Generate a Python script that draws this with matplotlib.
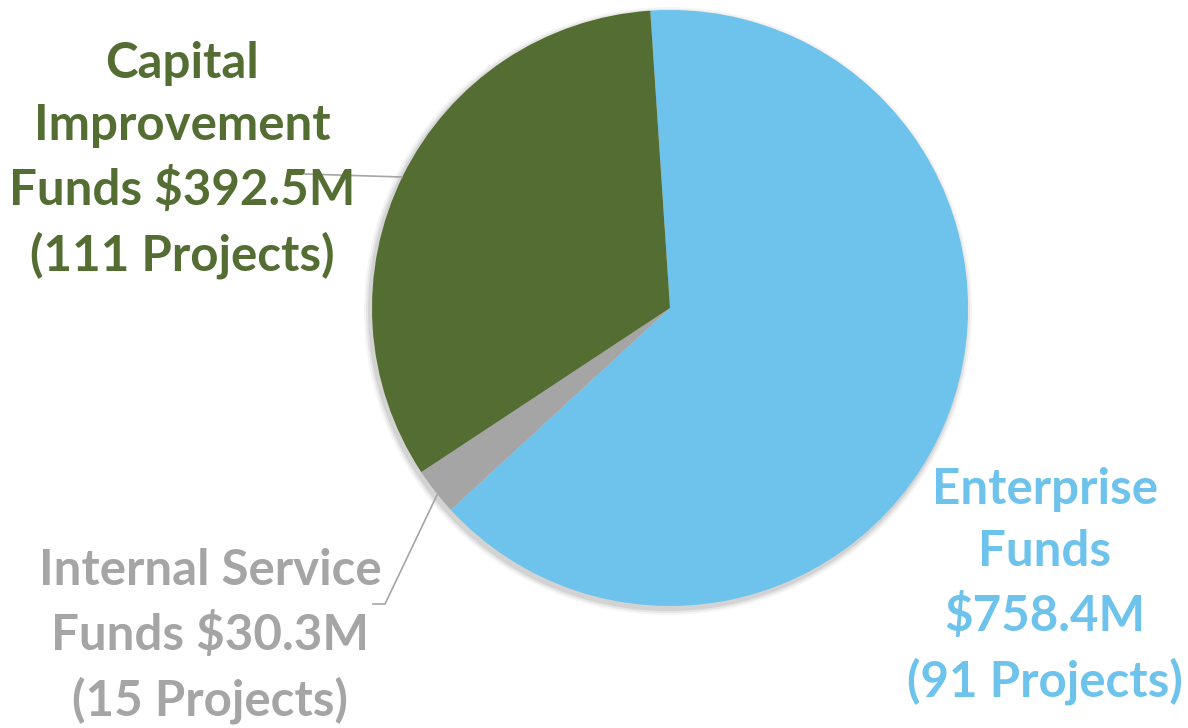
import matplotlib.pyplot as plt
from matplotlib.patches import Circle

plt.rcParams["font.family"] = ["Lato", "DejaVu Sans"]

# pie data (clockwise from top)
funds = ["Enterprise Funds", "Internal Service Funds", "Capital Improvement Funds"]
amounts = [758.4, 30.3, 392.5]
projects = [91, 15, 111]
colors = ["#6DC3EB", "#A5A5A5", "#546D32"]

W, H = 1188, 728
fig = plt.figure(figsize=(W / 100, H / 100), dpi=100)
ax = fig.add_axes([0, 0, 1, 1])

cx, cy, r = 670, H - 308, 298

# soft drop shadow behind the pie
for k, a in [(6, 0.04), (4, 0.06), (2, 0.08)]:
    ax.add_patch(Circle((cx - 2, cy - 3), r + k, color="black", alpha=a, lw=0, zorder=0))

ax.pie(
    amounts,
    colors=colors,
    startangle=93.8,
    counterclock=False,
    center=(cx, cy),
    radius=r,
    frame=True,
    wedgeprops={"linewidth": 0, "zorder": 1},
)
ax.set_xlim(0, W)
ax.set_ylim(0, H)
ax.set_aspect("equal")
ax.axis("off")

fs = 35.5
txt = dict(ha="center", va="center", fontsize=fs, fontweight="bold", linespacing=1.47)

ax.text(182, H - 160, "Capital\nImprovement\nFunds $%.1fM\n(%d Projects)" % (amounts[2], projects[2]),
        color=colors[2], **txt)
ax.text(210, H - 636, "Internal Service\nFunds $%.1fM\n(%d Projects)" % (amounts[1], projects[1]),
        color=colors[1], **txt)
ax.text(1045, H - 586, "Enterprise\nFunds\n$%.1fM\n(%d Projects)" % (amounts[0], projects[0]),
        color=colors[0], **txt)

# leader lines
ax.plot([305, 402], [H - 174, H - 177], color="#A5A5A5", lw=1.2)
ax.plot([373, 385, 437], [H - 604, H - 604, H - 495], color="#A5A5A5", lw=1.2)

fig.savefig("out.png", dpi=100)
